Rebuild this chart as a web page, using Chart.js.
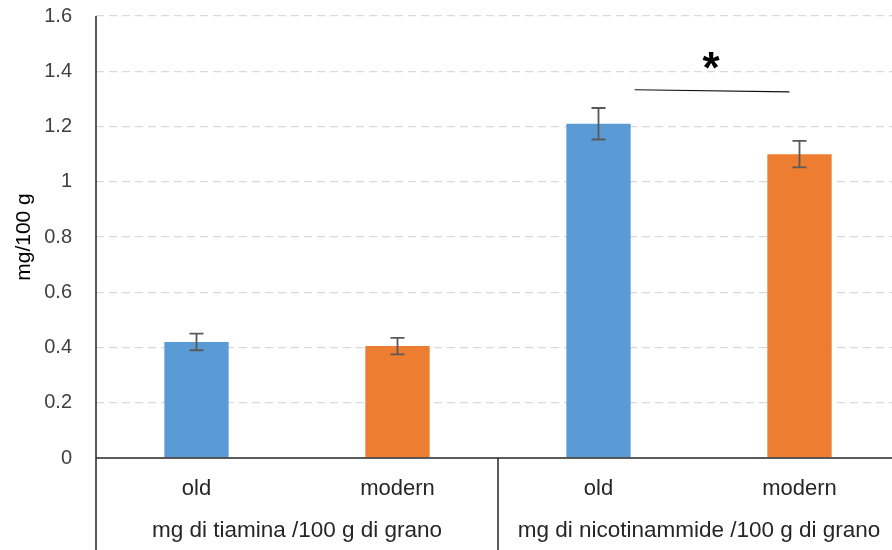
<!DOCTYPE html>
<html>
<head>
<meta charset="utf-8">
<script src="https://cdn.jsdelivr.net/npm/chart.js@4/dist/chart.umd.min.js"></script>
<style>
  html, body { margin: 0; padding: 0; background: #fff; overflow: hidden; }
  #wrap { width: 900px; height: 570px; position: relative; margin-top: -20px; }
</style>
</head>
<body>
<div id="wrap"><canvas id="c"></canvas></div>
<script>
// Bar labels, grouping and values (mg per 100 g of wheat)
const varieties = ['old', 'modern', 'old', 'modern'];
const groups = ['mg di tiamina /100 g di grano', 'mg di nicotinammide /100 g di grano'];
const means = [0.42, 0.405, 1.21, 1.10];
const errors = [0.03, 0.03, 0.057, 0.048];
const yTicks = [0, 0.2, 0.4, 0.6, 0.8, 1, 1.2, 1.4, 1.6];
const yTickLabels = ['0', '0.2', '0.4', '0.6', '0.8', '1', '1.2', '1.4', '1.6'];
// significance bracket between the two nicotinamide bars
const sigMark = '*';
const sigLineY = [1.333, 1.325];

const BLUE = '#5B9BD5', ORANGE = '#ED7D31';
const FONT = "'Liberation Sans', Arial, sans-serif";

const extras = {
  id: 'extras',
  afterDatasetsDraw(chart) {
    const ctx = chart.ctx, x = chart.scales.x, y = chart.scales.y;
    const meta = chart.getDatasetMeta(0);
    ctx.save();
    // error bars
    ctx.strokeStyle = '#595959';
    ctx.lineWidth = 1.8;
    meta.data.forEach((bar, i) => {
      const yt = y.getPixelForValue(means[i] + errors[i]);
      const yb = y.getPixelForValue(means[i] - errors[i]);
      ctx.beginPath();
      ctx.moveTo(bar.x, yt); ctx.lineTo(bar.x, yb);
      ctx.moveTo(bar.x - 7, yt); ctx.lineTo(bar.x + 7, yt);
      ctx.moveTo(bar.x - 7, yb); ctx.lineTo(bar.x + 7, yb);
      ctx.stroke();
    });
    // significance line and star
    ctx.strokeStyle = '#111';
    ctx.lineWidth = 1.2;
    ctx.beginPath();
    ctx.moveTo(x.getPixelForValue(2.18), y.getPixelForValue(sigLineY[0]));
    ctx.lineTo(x.getPixelForValue(2.95), y.getPixelForValue(sigLineY[1]));
    ctx.stroke();
    ctx.fillStyle = '#000';
    ctx.font = "bold 44px " + FONT;
    ctx.textAlign = 'center';
    ctx.textBaseline = 'middle';
    ctx.fillText(sigMark, x.getPixelForValue(2.56), y.getPixelForValue(1.40));
    ctx.restore();
  },
  afterDraw(chart) {
    const ctx = chart.ctx, x = chart.scales.x, area = chart.chartArea;
    const H = chart.height;
    ctx.save();
    // axis lines and group separators
    ctx.strokeStyle = '#262626';
    ctx.lineWidth = 1.5;
    ctx.beginPath();
    ctx.moveTo(area.left, area.top); ctx.lineTo(area.left, H);
    const sep = x.getPixelForValue(1.5);
    ctx.moveTo(sep, area.bottom); ctx.lineTo(sep, H);
    ctx.moveTo(area.left, area.bottom); ctx.lineTo(area.right, area.bottom);
    ctx.stroke();
    // group labels
    ctx.fillStyle = '#262626';
    ctx.font = "22.5px " + FONT;
    ctx.textAlign = 'center';
    ctx.textBaseline = 'middle';
    groups.forEach((g, i) => {
      ctx.fillText(g, x.getPixelForValue(i * 2 + 0.5), area.bottom + 73);
    });
    ctx.restore();
  }
};

new Chart(document.getElementById('c'), {
  type: 'bar',
  data: {
    labels: varieties,
    datasets: [{
      data: means,
      backgroundColor: [BLUE, ORANGE, BLUE, ORANGE],
      categoryPercentage: 1,
      barPercentage: 0.32
    }]
  },
  options: {
    responsive: true,
    maintainAspectRatio: false,
    animation: false,
    devicePixelRatio: 1,
    layout: { padding: { top: 0, right: 0, left: 0, bottom: 0 } },
    plugins: { legend: { display: false }, tooltip: { enabled: false } },
    scales: {
      x: {
        grid: { display: false, drawTicks: false },
        border: { display: false },
        ticks: { color: '#262626', font: { family: FONT, size: 22 }, padding: 18 },
        afterFit(s) { s.height = 92; }
      },
      y: {
        min: 0, max: 1.6,
        afterBuildTicks(s) { s.ticks = yTicks.map(v => ({ value: v })); },
        grid: {
          drawTicks: false,
          color: ctx => ctx.tick && ctx.tick.value === 0 ? 'rgba(0,0,0,0)' : '#d9d9d9',
          lineWidth: 1.3
        },
        border: { display: false, dash: [8, 5] },
        ticks: {
          color: '#404040', font: { family: FONT, size: 20 }, padding: 24,
          callback: (v, i) => yTickLabels[i]
        },
        title: { display: true, text: 'mg/100 g', color: '#000', font: { family: FONT, size: 21 }, padding: { top: 12, bottom: 0 } },
        afterFit(s) { s.width = 96; }
      }
    }
  },
  plugins: [extras]
});
</script>
</body>
</html>
